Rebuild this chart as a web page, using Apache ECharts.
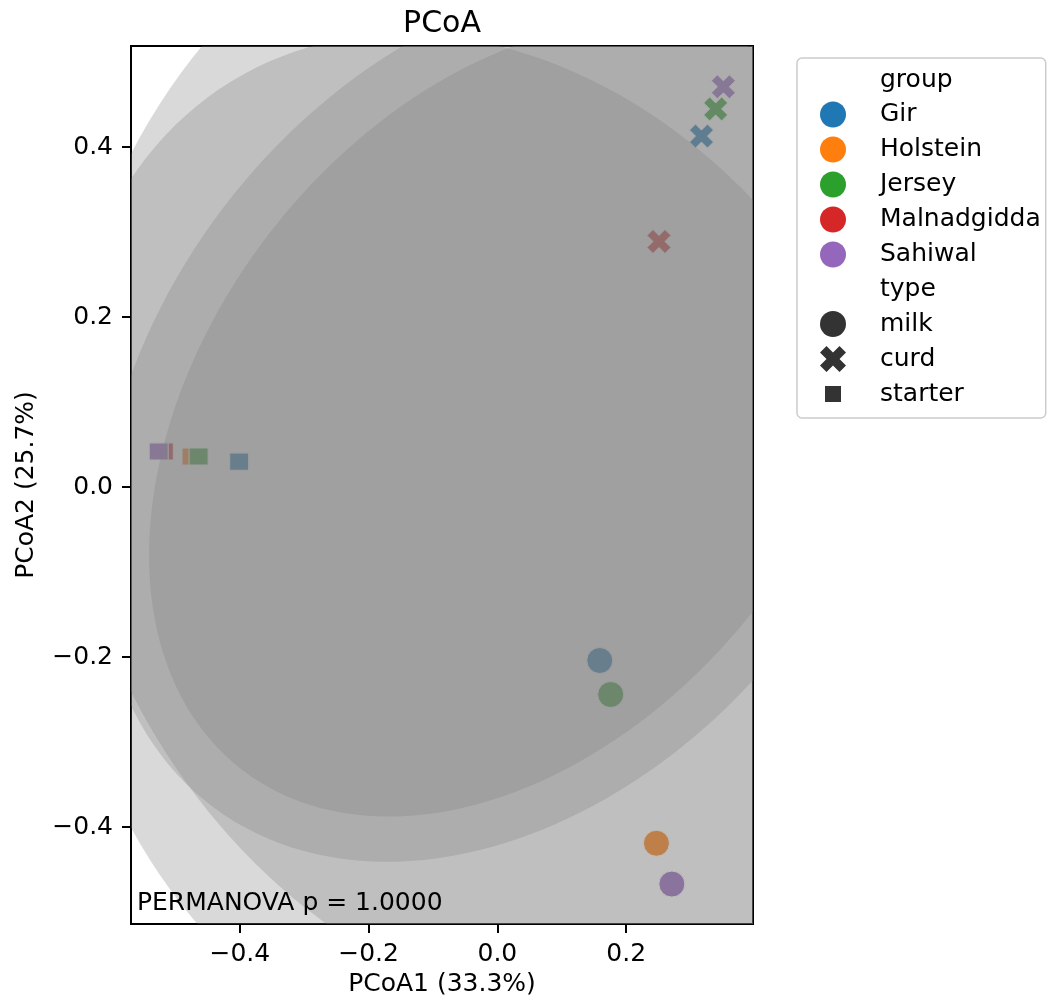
<!DOCTYPE html>
<html><head><meta charset="utf-8">
<script src="https://cdn.jsdelivr.net/npm/echarts@6/dist/echarts.min.js"></script>
<style>html,body{margin:0;padding:0;background:#fff}#c{width:1051px;height:998px}</style>
</head><body><div id="c"></div>
<script>
// ---- data ----
const groups = ['Gir', 'Holstein', 'Jersey', 'Malnadgidda', 'Sahiwal'];
const groupColors = ['#1f77b4', '#ff7f0e', '#2ca02c', '#d62728', '#9467bd'];
const types = ['milk', 'curd', 'starter'];
// one value per group (same order as groups); null = no sample
const milkPC1 = [0.159, 0.247, 0.176, 0.271, 0.271];
const milkPC2 = [-0.204, -0.419, -0.244, -0.467, -0.467];
const curdPC1 = [0.317, null, 0.339, 0.251, 0.351];
const curdPC2 = [0.413, null, 0.445, 0.289, 0.471];
const starterPC1 = [-0.401, -0.475, -0.464, -0.518, -0.526];
const starterPC2 = [0.030, 0.036, 0.036, 0.042, 0.042];
const xTicks = [-0.4, -0.2, 0.0, 0.2];
const yTicks = [-0.4, -0.2, 0.0, 0.2, 0.4];
const xRange = [-0.569, 0.397];
const yRange = [-0.514, 0.519];
const ellipseNStd = 1.5;
const permanovaP = 1.0;
const xName = 'PCoA1 (33.3%)';
const yName = 'PCoA2 (25.7%)';

// ---- styles ----
const FONT = 'DejaVu Sans';
const X_PATH = 'path://M0,25 L25,0 L50,25 L75,0 L100,25 L75,50 L100,75 L75,100 L50,75 L25,100 L0,75 L25,50 Z';
const SQ_LEGEND = 'path://M0,0 L0,0 M5,5 L21,5 L21,21 L5,21 Z M26,26 L26,26';
const typeSymbol = {milk: 'circle', curd: X_PATH, starter: 'rect'};
const typeSize = {milk: 26, curd: 24, starter: [19, 17]};
const TYPE_COLOR = '#333333';

function samplesOf(gi) {
  const out = [];
  const pc1 = [milkPC1, curdPC1, starterPC1], pc2 = [milkPC2, curdPC2, starterPC2];
  types.forEach((t, ti) => {
    if (pc1[ti][gi] != null) out.push({type: t, x: pc1[ti][gi], y: pc2[ti][gi]});
  });
  return out;
}

function ellipseParams(gi) {
  const s = samplesOf(gi);
  const n = s.length;
  if (n < 3) return null;
  const mx = s.reduce((a, p) => a + p.x, 0) / n;
  const my = s.reduce((a, p) => a + p.y, 0) / n;
  let sxx = 0, syy = 0, sxy = 0;
  s.forEach(p => { sxx += (p.x - mx) ** 2; syy += (p.y - my) ** 2; sxy += (p.x - mx) * (p.y - my); });
  sxx /= (n - 1); syy /= (n - 1); sxy /= (n - 1);
  const a = Math.sqrt(sxx), b = sxy / a, c = Math.sqrt(Math.max(syy - b * b, 0));
  return {mx, my, a, b, c};
}

const fmt = v => (v < 0 ? '\u2212' : '') + Math.abs(v).toFixed(1);

const series = [];
groups.forEach((g, gi) => {
  series.push({
    name: g, type: 'scatter', z: 2, symbol: 'circle',
    itemStyle: {color: groupColors[gi], borderColor: '#ffffff', borderWidth: 1, opacity: 1},
    emphasis: {disabled: true},
    data: samplesOf(gi).map(p => ({value: [p.x, p.y], symbol: typeSymbol[p.type], symbolSize: typeSize[p.type]}))
  });
});
// legend-only entries
['group', 'type'].forEach(n => series.push({name: n, type: 'scatter', data: []}));
types.forEach(t => series.push({name: t, type: 'scatter', symbol: typeSymbol[t], itemStyle: {color: TYPE_COLOR, opacity: 1}, data: []}));

// confidence ellipses
const ellData = [];
groups.forEach((g, gi) => { const e = ellipseParams(gi); if (e) ellData.push([e.mx, e.my, gi]); });
series.push({
  type: 'custom', name: 'ellipses', z: 5, silent: true,
  data: ellData,
  renderItem: function (params, api) {
    const gi = api.value(2);
    const e = ellipseParams(gi);
    const pts = [];
    const N = 180;
    for (let i = 0; i < N; i++) {
      const t = 2 * Math.PI * i / N;
      const x = e.mx + ellipseNStd * e.a * Math.cos(t);
      const y = e.my + ellipseNStd * (e.b * Math.cos(t) + e.c * Math.sin(t));
      pts.push(api.coord([x, y]));
    }
    const cs = params.coordSys;
    return {
      type: 'polygon', shape: {points: pts},
      style: {fill: 'rgba(128,128,128,0.3)', stroke: null},
      clipPath: {type: 'rect', shape: {x: cs.x, y: cs.y, width: cs.width, height: cs.height}}
    };
  }
});

const iconStyle = col => ({color: col, borderWidth: 0, opacity: 1});
const legendData = [{name: 'group', icon: 'none'}]
  .concat(groups.map((g, gi) => ({name: g, icon: 'circle', itemStyle: iconStyle(groupColors[gi])})))
  .concat([
    {name: 'type', icon: 'none'},
    {name: 'milk', icon: 'circle', itemStyle: iconStyle(TYPE_COLOR)},
    {name: 'curd', icon: X_PATH, itemStyle: iconStyle(TYPE_COLOR)},
    {name: 'starter', icon: SQ_LEGEND, itemStyle: iconStyle(TYPE_COLOR)}
  ]);

const chart = echarts.init(document.getElementById('c'), null, {renderer: 'canvas'});
chart.setOption({
  animation: false,
  textStyle: {fontFamily: FONT},
  title: {text: 'PCoA', left: 437, top: 4, textAlign: 'center',
    textStyle: {fontSize: 30, fontWeight: 'normal', color: '#000', fontFamily: FONT}},
  grid: {left: 131, top: 46, width: 622, height: 878, show: true, borderColor: '#000', borderWidth: 2,
    backgroundColor: 'transparent', containLabel: false, outerBoundsMode: 'none'},
  legend: {
    orient: 'vertical', left: 797, top: 58, padding: [9, 5, 11, 23],
    itemWidth: 26, itemHeight: 26, itemGap: 9, selectedMode: false,
    borderColor: '#cccccc', borderWidth: 1.5, borderRadius: 5, backgroundColor: '#fff',
    textStyle: {fontSize: 25, color: '#000', fontFamily: FONT, padding: [0, 0, 0, 29], lineHeight: 24, height: 24},
    data: legendData
  },
  xAxis: {
    type: 'value', min: xRange[0], max: xRange[1],
    name: xName, nameLocation: 'middle', nameGap: 48,
    nameTextStyle: {fontSize: 25, color: '#000', fontFamily: FONT},
    axisLine: {show: false, onZero: false},
    axisTick: {show: true, inside: false, length: 9, customValues: xTicks, lineStyle: {color: '#000', width: 2}},
    axisLabel: {customValues: xTicks, formatter: fmt, fontSize: 25, color: '#000', margin: 18, fontFamily: FONT},
    splitLine: {show: false}
  },
  yAxis: {
    type: 'value', min: yRange[0], max: yRange[1],
    name: yName, nameLocation: 'middle', nameGap: 92,
    nameTextStyle: {fontSize: 25, color: '#000', fontFamily: FONT},
    axisLine: {show: false, onZero: false},
    axisTick: {show: true, inside: false, length: 9, customValues: yTicks, lineStyle: {color: '#000', width: 2}},
    axisLabel: {customValues: yTicks, formatter: fmt, fontSize: 25, color: '#000', margin: 18, fontFamily: FONT},
    splitLine: {show: false}
  },
  graphic: [{
    type: 'text', left: 137, top: 891, z: 100,
    style: {text: 'PERMANOVA p = ' + permanovaP.toFixed(4), fontSize: 25, fill: '#000', fontFamily: FONT}
  }],
  series: series
});
</script></body></html>
